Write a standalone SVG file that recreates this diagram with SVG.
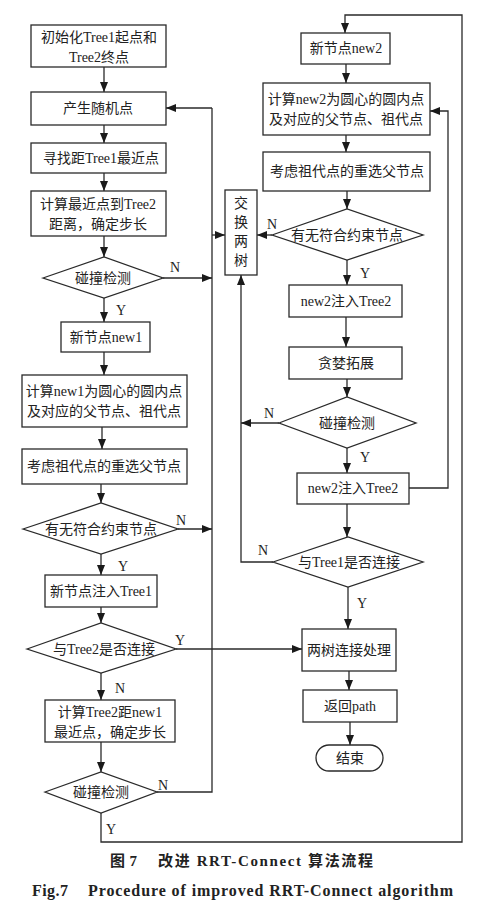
<svg xmlns="http://www.w3.org/2000/svg" width="485" height="907" viewBox="0 0 485 907">
<defs>
<marker id="ah" viewBox="0 0 10 8" refX="10" refY="4" markerWidth="10" markerHeight="8" markerUnits="userSpaceOnUse" orient="auto">
<path d="M0,0 L10,4 L0,8 Z" fill="#1a1a1a"/>
</marker>
<style>
.b{fill:#fff;stroke:#2a2a2a;stroke-width:1.3}
.t{font-family:"Liberation Serif","Noto Sans CJK SC",serif;font-size:14px;fill:#222;text-anchor:middle}
.l{font-family:"Liberation Serif",serif;font-size:14px;fill:#222}
.c{fill:none;stroke:#2a2a2a;stroke-width:1.3}
.a{fill:none;stroke:#2a2a2a;stroke-width:1.3;marker-end:url(#ah)}
.cap{font-family:"Liberation Serif","Noto Sans CJK SC",serif;font-weight:bold;fill:#222}
</style>
</defs>
<rect width="485" height="907" fill="#fff"/>
<g id="connectors">
<line class="a" x1="104" y1="67" x2="104" y2="92"/>
<line class="a" x1="104" y1="125" x2="104" y2="143"/>
<line class="a" x1="104" y1="173" x2="104" y2="191"/>
<line class="a" x1="104" y1="236" x2="104" y2="257"/>
<line class="a" x1="104" y1="298" x2="104" y2="322"/>
<line class="a" x1="104" y1="352" x2="104" y2="375"/>
<line class="a" x1="102" y1="427" x2="102" y2="449"/>
<line class="a" x1="101" y1="484" x2="101" y2="503"/>
<line class="a" x1="101" y1="554" x2="101" y2="575"/>
<line class="a" x1="101" y1="607" x2="101" y2="623"/>
<line class="a" x1="101" y1="673" x2="101" y2="700"/>
<line class="a" x1="101" y1="742" x2="101" y2="772"/>
<polyline class="c" points="157,792 212,792 212,108"/>
<line class="a" x1="212" y1="108" x2="166" y2="108"/>
<line class="a" x1="163" y1="278" x2="212" y2="278"/>
<line class="a" x1="178" y1="529" x2="212" y2="529"/>
<line class="a" x1="212" y1="235" x2="225" y2="235"/>
<line class="a" x1="176" y1="649" x2="302" y2="649"/>
<polyline class="a" points="101,813 101,842 462,842 462,15 345,15 345,33"/>
<line class="a" x1="346" y1="64" x2="346" y2="83"/>
<line class="a" x1="346" y1="135" x2="346" y2="152"/>
<line class="a" x1="347" y1="191" x2="347" y2="209"/>
<line class="a" x1="272" y1="235" x2="257" y2="235"/>
<line class="a" x1="347" y1="260" x2="347" y2="285"/>
<line class="a" x1="346" y1="317" x2="346" y2="347"/>
<line class="a" x1="347" y1="379" x2="347" y2="397"/>
<line class="a" x1="279" y1="423" x2="241" y2="423"/>
<line class="a" x1="347" y1="448" x2="347" y2="473"/>
<polyline class="a" points="409,488 448,488 448,111 430,111"/>
<line class="a" x1="347" y1="504" x2="347" y2="537"/>
<polyline class="a" points="273,562 241,562 241,275"/>
<line class="a" x1="348" y1="587" x2="348" y2="629"/>
<line class="a" x1="349" y1="671" x2="349" y2="690"/>
<line class="a" x1="350" y1="722" x2="350" y2="745"/>
<text class="l" x="170" y="272">N</text>
<text class="l" x="116" y="315">Y</text>
<text class="l" x="176" y="525">N</text>
<text class="l" x="118" y="571">Y</text>
<text class="l" x="175" y="645">Y</text>
<text class="l" x="115" y="693">N</text>
<text class="l" x="158" y="790">N</text>
<text class="l" x="106" y="834">Y</text>
<text class="l" x="267" y="229">N</text>
<text class="l" x="360" y="278">Y</text>
<text class="l" x="264" y="418">N</text>
<text class="l" x="360" y="462">Y</text>
<text class="l" x="258" y="555">N</text>
<text class="l" x="357" y="608">Y</text>
</g>
<g id="init"><rect class="b" x="31" y="25" width="135" height="42"/><text class="t" x="99" y="42">初始化Tree1起点和</text><text class="t" x="99" y="62">Tree2终点</text></g>
<g id="random"><rect class="b" x="31" y="92" width="135" height="33"/><text class="t" x="98" y="113">产生随机点</text></g>
<g id="nearest"><rect class="b" x="31" y="143" width="135" height="30"/><text class="t" x="101" y="163">寻找距Tree1最近点</text></g>
<g id="step1"><rect class="b" x="31" y="191" width="135" height="45"/><text class="t" x="98" y="209">计算最近点到Tree2</text><text class="t" x="98" y="229">距离，确定步长</text></g>
<g id="coll1"><polygon class="b" points="43,278 104,257 163,278 104,298"/><text class="t" x="103" y="283">碰撞检测</text></g>
<g id="new1"><rect class="b" x="61" y="322" width="89" height="30"/><text class="t" x="106" y="342">新节点new1</text></g>
<g id="circle1"><rect class="b" x="22" y="375" width="165" height="52"/><text class="t" x="104" y="396">计算new1为圆心的圆内点</text><text class="t" x="104" y="416">及对应的父节点、祖代点</text></g>
<g id="reparent1"><rect class="b" x="22" y="449" width="165" height="35"/><text class="t" x="104" y="471">考虑祖代点的重选父节点</text></g>
<g id="constraint1"><polygon class="b" points="23,529 101,503 178,529 101,554"/><text class="t" x="101" y="534">有无符合约束节点</text></g>
<g id="insert1"><rect class="b" x="45" y="575" width="112" height="32"/><text class="t" x="101" y="596">新节点注入Tree1</text></g>
<g id="connect2"><polygon class="b" points="27,649 101,623 176,649 101,673"/><text class="t" x="104" y="654">与Tree2是否连接</text></g>
<g id="step2"><rect class="b" x="45" y="700" width="130" height="42"/><text class="t" x="110" y="717">计算Tree2距new1</text><text class="t" x="110" y="737">最近点，确定步长</text></g>
<g id="coll2"><polygon class="b" points="45,792 101,772 157,792 101,813"/><text class="t" x="101" y="797">碰撞检测</text></g>
<g id="swap"><rect class="b" x="225" y="190" width="32" height="85"/><text class="t" x="241" y="208">交</text><text class="t" x="241" y="227">换</text><text class="t" x="241" y="246">两</text><text class="t" x="241" y="265">树</text></g>
<g id="new2"><rect class="b" x="301" y="33" width="89" height="31"/><text class="t" x="346" y="53">新节点new2</text></g>
<g id="circle2"><rect class="b" x="263" y="83" width="167" height="52"/><text class="t" x="346" y="104">计算new2为圆心的圆内点</text><text class="t" x="346" y="124">及对应的父节点、祖代点</text></g>
<g id="reparent2"><rect class="b" x="263" y="152" width="167" height="39"/><text class="t" x="347" y="176">考虑祖代点的重选父节点</text></g>
<g id="constraint2"><polygon class="b" points="272,235 347,209 423,235 347,260"/><text class="t" x="347" y="240">有无符合约束节点</text></g>
<g id="insert2a"><rect class="b" x="289" y="285" width="113" height="32"/><text class="t" x="346" y="306">new2注入Tree2</text></g>
<g id="greedy"><rect class="b" x="289" y="347" width="113" height="32"/><text class="t" x="346" y="368">贪婪拓展</text></g>
<g id="coll3"><polygon class="b" points="279,423 347,397 416,423 347,448"/><text class="t" x="347" y="428">碰撞检测</text></g>
<g id="insert2b"><rect class="b" x="297" y="473" width="112" height="31"/><text class="t" x="353" y="493">new2注入Tree2</text></g>
<g id="connect1"><polygon class="b" points="273,562 348,537 423,562 348,587"/><text class="t" x="349" y="567">与Tree1是否连接</text></g>
<g id="join"><rect class="b" x="302" y="629" width="94" height="42"/><text class="t" x="349" y="655">两树连接处理</text></g>
<g id="ret"><rect class="b" x="303" y="690" width="94" height="32"/><text class="t" x="350" y="711">返回path</text></g>
<g id="end"><rect class="b" x="316" y="745" width="67" height="26" rx="13" ry="13"/><text class="t" x="350" y="763">结束</text></g>
<g id="caption">
<text class="cap" x="110" y="866" font-size="15" textLength="27" lengthAdjust="spacing">图 7</text>
<text class="cap" x="158" y="866" font-size="15" textLength="215" lengthAdjust="spacing">改进 RRT-Connect 算法流程</text>
<text class="cap" x="32" y="896" font-size="16" textLength="36" lengthAdjust="spacing">Fig.7</text>
<text class="cap" x="88" y="896" font-size="16" textLength="365" lengthAdjust="spacing">Procedure of improved RRT-Connect algorithm</text>
</g>
</svg>
